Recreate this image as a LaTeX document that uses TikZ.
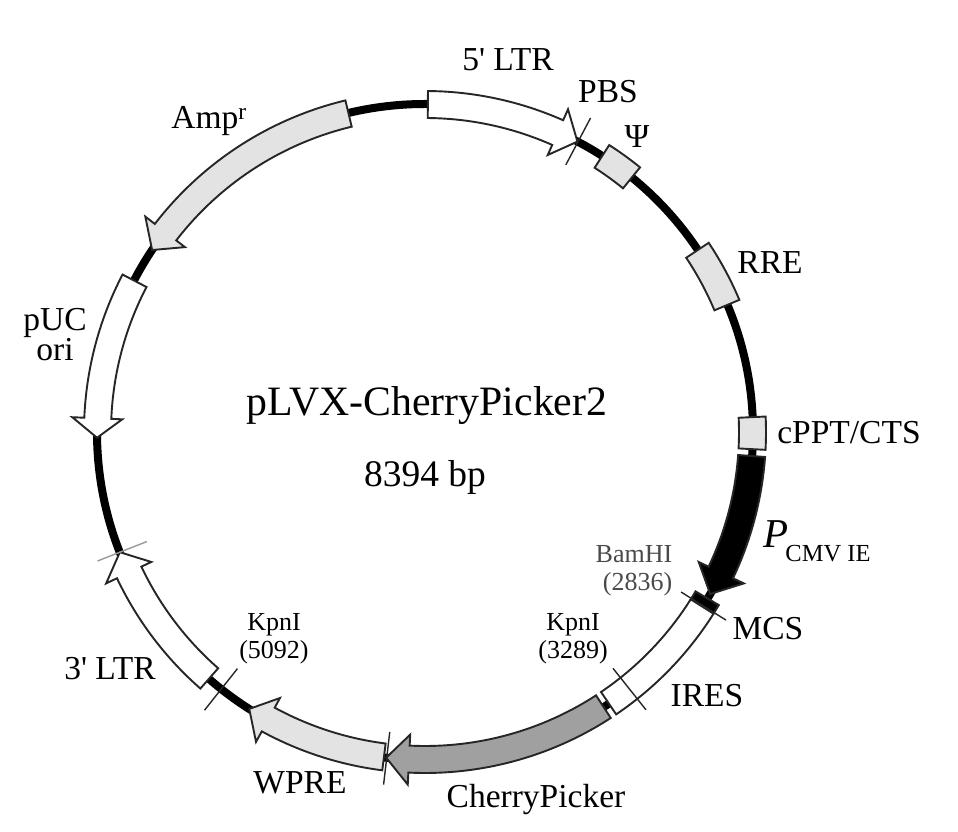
\documentclass[tikz,border=0pt]{standalone}
\usepackage{fontspec}
\setmainfont[Ligatures=TeXOff]{Liberation Serif}
\definecolor{lightpart}{HTML}{E3E3E3}
\definecolor{cherrypart}{HTML}{A0A0A0}
\definecolor{sitegray}{HTML}{4A4A4A}
\begin{document}
\begin{tikzpicture}[x=1pt,y=1pt,
    part/.style={draw=black!85,line width=1.9pt},
    cut/.style={draw=black!85,line width=1.4pt},
    main node/.style={inner sep=0pt,font=\fontsize{33.5}{36}\selectfont},
    site node/.style={inner sep=0pt,align=center,font=\fontsize{26}{27.5}\selectfont}]
    \useasboundingbox (-425,432) rectangle (533,-400);

    % backbone
    \draw[line width=8pt] (0,0) circle (328pt);

    % arrows: start / shaft end / tip / fill
    \foreach \sa/\ea/\tip/\col in {
        89.5/66.1/62.3/white,
        103.5/142.4/146.3/lightpart,
        152.5/177.6/181/white,
        -4.2/-25.4/-29.6/black,
        -57/-92.8/-96.8/cherrypart,
        -97.2/-118.6/-122.4/lightpart,
        -131.2/-154.6/-158.5/white}
    {
        \draw[part,fill=\col] (\sa:341pt) arc[start angle=\sa,end angle=\ea,radius=341pt]
            -- (\ea:353pt) -- (\tip:328pt) -- (\ea:303pt) -- (\ea:314pt)
            arc[start angle=\ea,end angle=\sa,radius=314pt] -- cycle;
    }

    % blocks: start / end / fill
    \foreach \sa/\ea/\col in {
        57.3/50.9/lightpart,
        33.7/22.8/lightpart,
        2.6/-3/lightpart,
        -30.5/-32.2/black,
        -32.2/-55.9/white}
    {
        \draw[part,fill=\col] (\sa:341pt) arc[start angle=\sa,end angle=\ea,radius=341pt]
            -- (\ea:314pt) arc[start angle=\ea,end angle=\sa,radius=314pt] -- cycle;
    }

    % cuts
    \foreach \a in {62.2,-32,-51.5,-96.7,-128.4}
        \draw[cut] (\a:302pt) -- (\a:355pt);
    \draw[cut,draw=black!40] (-158.5:299pt) -- (-158.5:352pt);

    % labels
    \node[main node] (ltrfive) at (83,372) {5' LTR};
    \node[main node] (pbs) at (183,340) {PBS};
    \node[main node] (psi) at (212,295) {Ψ};
    \node[main node] (rre) at (345,169) {RRE};
    \node[main node] (cppt) at (424,-1) {cPPT/CTS};
    \node[main node,font=\fontsize{41}{44}\selectfont\itshape] (pcmv) at (351,-102) {P};
    \node[site node,font=\fontsize{24.5}{27}\selectfont] (cmvie) at (403,-122) {CMV IE};
    \node[main node] (mcs) at (343,-197) {MCS};
    \node[main node] (ires) at (282,-264) {IRES};
    \node[main node] (cherry) at (111,-367) {CherryPicker};
    \node[main node] (wpre) at (-125,-351) {WPRE};
    \node[main node] (ltrthree) at (-315,-237) {3' LTR};
    \node[main node,align=center,font=\fontsize{33.5}{30}\selectfont] (puc) at (-370,97) {pUC\\ori};
    \node[main node] (amp) at (-216,311) {Amp\textsuperscript{r}};
    \node[site node] (kpnb) at (-151,-207) {KpnI\\(5092)};
    \node[site node] (kpna) at (148,-207) {KpnI\\(3289)};
    \node[site node,text=sitegray,align=right] (bam) at (209,-139) {BamHI\\(2836)};
    \node[main node,font=\fontsize{41.8}{44}\selectfont] (name) at (2,26) {pLVX-CherryPicker2};
    \node[main node,font=\fontsize{37.5}{40}\selectfont] (size) at (0,-45) {8394 bp};
\end{tikzpicture}
\end{document}
